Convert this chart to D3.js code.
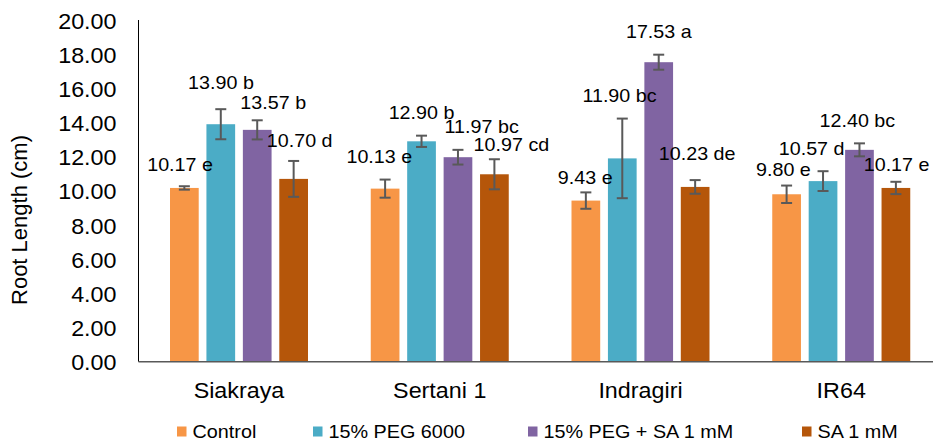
<!DOCTYPE html>
<html>
<head>
<meta charset="utf-8">
<script src="https://cdn.jsdelivr.net/npm/d3@7"></script>
<style>
  body { margin: 0; background: #fff; }
  svg { display: block; }
  text { font-family: "Liberation Sans", Arial, sans-serif; fill: #000; }
</style>
</head>
<body>
<svg id="chart" width="933" height="444"></svg>
<script>
// Root length (cm) per variety and treatment, with standard errors and DMRT letters
const categories = ["Siakraya", "Sertani 1", "Indragiri", "IR64"];
const seriesNames = ["Control", "15% PEG 6000", "15% PEG + SA 1 mM", "SA 1 mM"];

const controlMean = [10.17, 10.13, 9.43, 9.80];
const pegMean     = [13.90, 12.90, 11.90, 10.57];
const pegSaMean   = [13.57, 11.97, 17.53, 12.40];
const saMean      = [10.70, 10.97, 10.23, 10.17];

const controlErr = [0.10, 0.53, 0.48, 0.51];
const pegErr     = [0.88, 0.33, 2.33, 0.58];
const pegSaErr   = [0.56, 0.43, 0.44, 0.38];
const saErr      = [1.05, 0.88, 0.40, 0.36];

const controlLetter = ["e", "e", "e", "e"];
const pegLetter     = ["b", "b", "bc", "d"];
const pegSaLetter   = ["b", "bc", "a", "bc"];
const saLetter      = ["d", "cd", "de", "e"];

const yTickValues = [0, 2, 4, 6, 8, 10, 12, 14, 16, 18, 20];

// ---- layout & style ----
const colors = ["#F79646", "#4BACC6", "#8064A2", "#B5560A"];
const W = 933, H = 444;
const plotLeft = 138.5, plotTop = 20, plotBottom = 361.7;
const bandStart = 138.6, bandEnd = 941.6;
const textStretch = 1.06;
const legendStretch = 1.1;

// hand-placed data label offsets [dx, dy] per series, per variety
const labelNudge = [
  [[-4.3, -0.3], [-5.8, -1.7], [-0.6, 7.4], [-3.2, 6.0]],
  [[0.2, -5.0], [0.0, -1.0], [-2.8, -1.0], [-11.4, -1.3]],
  [[16.0, 3.7], [23.7, -1.5], [0.1, -1.0], [-2.1, -1.3]],
  [[6.0, 1.6], [17.0, 7.0], [2.0, -4.3], [0.7, 5.0]]
];

const means = [controlMean, pegMean, pegSaMean, saMean];
const errs = [controlErr, pegErr, pegSaErr, saErr];
const letters = [controlLetter, pegLetter, pegSaLetter, saLetter];

const rows = [];
categories.forEach((c, ci) => {
  seriesNames.forEach((s, si) => {
    rows.push({ cat: c, ci, series: s, si,
      value: means[si][ci], err: errs[si][ci], letter: letters[si][ci] });
  });
});

const svg = d3.select("#chart");

const y = d3.scaleLinear().domain([0, 20]).range([plotBottom, plotTop]);
const x0 = d3.scaleBand().domain(categories).range([bandStart, bandEnd]).paddingInner(0).paddingOuter(0);
const x1 = d3.scaleBand().domain(seriesNames).range([31.4, 169.4]).paddingInner(0.212).paddingOuter(0);
const color = d3.scaleOrdinal().domain(seriesNames).range(colors);

// y axis: labels only, plus a plain black line
const yAxis = d3.axisLeft(y).tickValues(yTickValues).tickSize(0).tickFormat(d3.format(".2f"));
const gy = svg.append("g").attr("transform", `translate(${plotLeft},0)`).call(yAxis);
gy.select(".domain").remove();
gy.selectAll(".tick text")
  .attr("x", 0).attr("dy", null)
  .attr("transform", `translate(-22,8) scale(${textStretch},1)`)
  .attr("text-anchor", "end")
  .style("font-size", "22px")
  .style("font-family", "\"Liberation Sans\", Arial, sans-serif")
  .attr("fill", "#000");

svg.append("line")
  .attr("x1", plotLeft).attr("x2", plotLeft)
  .attr("y1", y(20)).attr("y2", y(0))
  .attr("stroke", "#000").attr("stroke-width", 1);

// bars
const barG = svg.append("g");
barG.selectAll("rect").data(rows).join("rect")
  .attr("x", d => x0(d.cat) + x1(d.series))
  .attr("y", d => y(d.value))
  .attr("width", x1.bandwidth())
  .attr("height", d => y(0) - y(d.value))
  .attr("fill", d => color(d.series));

// x axis line and category labels
const xAxis = d3.axisBottom(x0).tickSize(0);
const gx = svg.append("g").attr("transform", `translate(0,${plotBottom})`).call(xAxis);
gx.select(".domain")
  .attr("d", `M${plotLeft},0H${W}`)
  .attr("stroke", "#595959").attr("stroke-width", 1.5);
gx.selectAll(".tick text")
  .attr("y", 0).attr("dy", null)
  .attr("transform", `translate(0,36.3) scale(${textStretch},1)`)
  .style("font-size", "22px")
  .style("font-family", "\"Liberation Sans\", Arial, sans-serif")
  .attr("fill", "#000");

// error bars
const capHalf = 5.5;
const errG = svg.append("g").attr("stroke", "#595959").attr("stroke-width", 2).attr("fill", "none");
rows.forEach(d => {
  const cx = x0(d.cat) + x1(d.series) + x1.bandwidth() / 2;
  const yHi = y(d.value + d.err), yLo = y(d.value - d.err);
  errG.append("line").attr("x1", cx).attr("x2", cx).attr("y1", yHi).attr("y2", yLo);
  errG.append("line").attr("x1", cx - capHalf).attr("x2", cx + capHalf).attr("y1", yHi).attr("y2", yHi);
  errG.append("line").attr("x1", cx - capHalf).attr("x2", cx + capHalf).attr("y1", yLo).attr("y2", yLo);
});

// data labels: mean followed by significance letter
const labelSize = 18.6;
svg.append("g").selectAll("text").data(rows).join("text")
  .attr("text-anchor", "middle")
  .style("font-size", labelSize + "px")
  .attr("transform", d => {
    const [dx, dy] = labelNudge[d.si][d.ci];
    const cx = x0(d.cat) + x1(d.series) + x1.bandwidth() / 2 + dx;
    const cy = y(d.value + d.err) - 22 + dy + 0.358 * labelSize;
    return `translate(${cx},${cy}) scale(${textStretch},1)`;
  })
  .text(d => `${d.value.toFixed(2)} ${d.letter}`);

// y axis title
svg.append("text")
  .attr("transform", "translate(27.3,220) rotate(-90)")
  .attr("text-anchor", "middle")
  .style("font-size", "22px")
  .text("Root Length (cm)");

// legend
const legendX = [177, 313, 528, 802];
const lg = svg.append("g").selectAll("g").data(seriesNames).join("g")
  .attr("transform", (d, i) => `translate(${legendX[i]},0)`);
lg.append("rect")
  .attr("x", 0).attr("y", 426.5).attr("width", 9.5).attr("height", 10)
  .attr("fill", d => color(d));
lg.append("text")
  .attr("transform", `translate(15.5,438) scale(${legendStretch},1)`)
  .style("font-size", "18px")
  .text(d => d);
</script>
</body>
</html>
